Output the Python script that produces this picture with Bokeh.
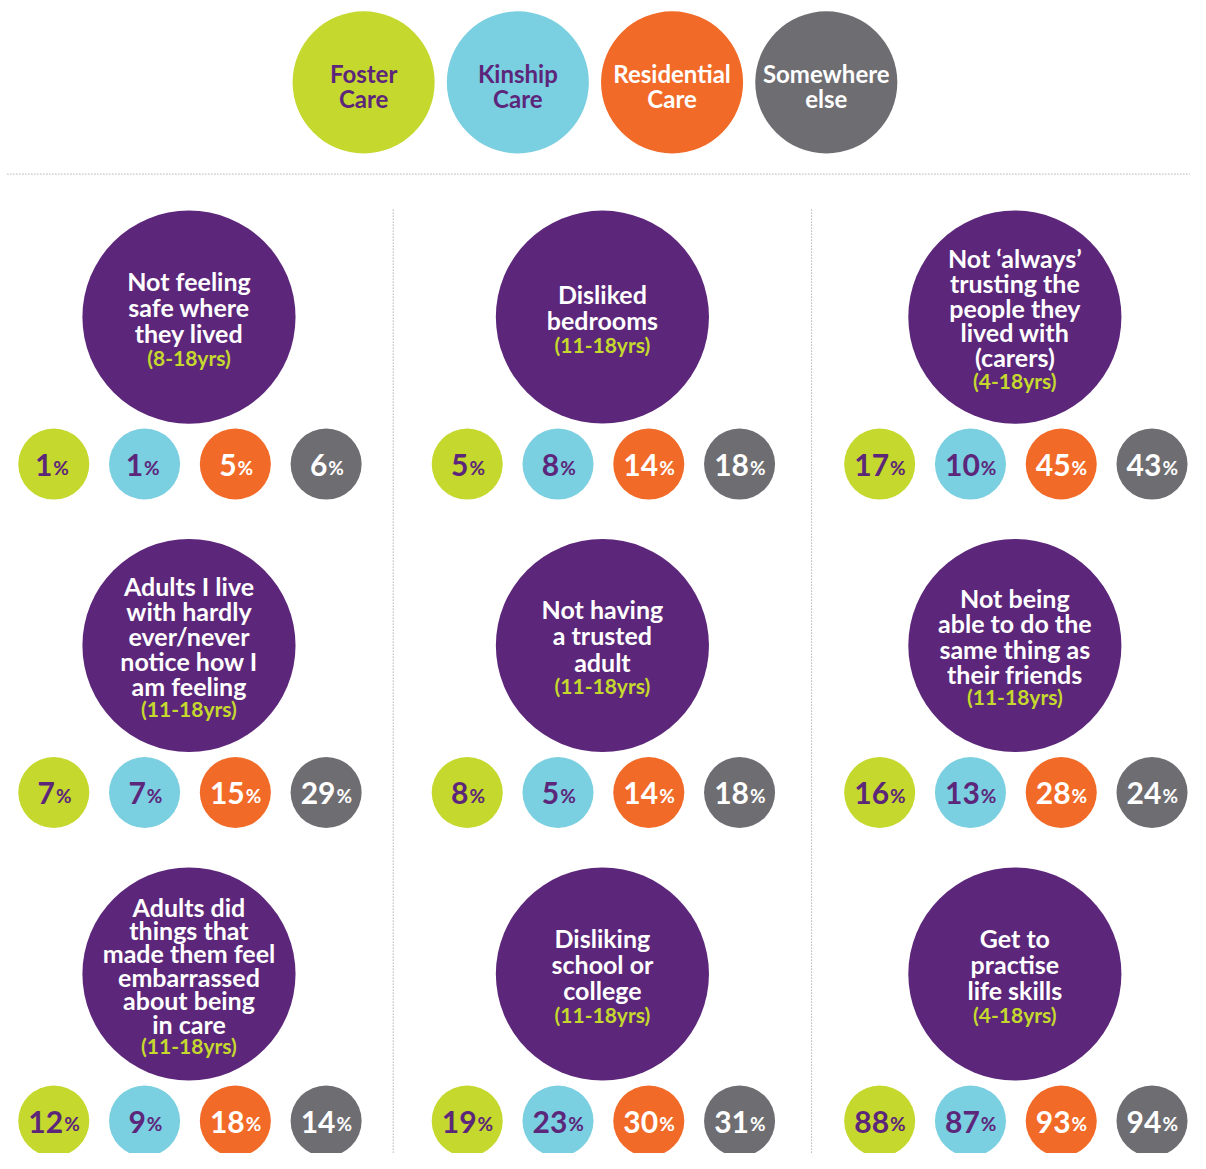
from bokeh.plotting import figure
from bokeh.models import Range1d
from bokeh.core.properties import value
from bokeh.embed import file_html
from bokeh.resources import INLINE

# ---------------- data ----------------
categories = ["Foster\nCare", "Kinship\nCare", "Residential\nCare", "Somewhere\nelse"]
cat_colors = ["#C5D82E", "#7ACFE0", "#F26A27", "#6E6D72"]
cat_text_colors = ["#5C267A", "#5C267A", "#FFFFFF", "#FFFFFF"]

titles = [
    ["Not feeling", "safe where", "they lived"],
    ["Disliked", "bedrooms"],
    ["Not \u2018always\u2019", "trusting the", "people they", "lived with", "(carers)"],
    ["Adults I live", "with hardly", "ever/never", "notice how I", "am feeling"],
    ["Not having", "a trusted", "adult"],
    ["Not being", "able to do the", "same thing as", "their friends"],
    ["Adults did", "things that", "made them feel", "embarrassed", "about being", "in care"],
    ["Disliking", "school or", "college"],
    ["Get to", "practise", "life skills"],
]
age_ranges = ["(8-18yrs)", "(11-18yrs)", "(4-18yrs)",
              "(11-18yrs)", "(11-18yrs)", "(11-18yrs)",
              "(11-18yrs)", "(11-18yrs)", "(4-18yrs)"]
foster = [1, 5, 17, 7, 8, 16, 12, 19, 88]
kinship = [1, 8, 10, 7, 5, 13, 9, 23, 87]
residential = [5, 14, 45, 15, 14, 28, 18, 30, 93]
somewhere = [6, 18, 43, 29, 18, 24, 14, 31, 94]

PURPLE = "#5C267A"
FONT = "Lato"

W, H = 1190, 1153
p = figure(width=W, height=H, output_backend="svg", toolbar_location=None,
           x_range=Range1d(0, 1206), y_range=Range1d(1169, 0),
           x_axis_type=None, y_axis_type=None, min_border=0,
           background_fill_color="white", border_fill_color="white")
p.outline_line_color = None
p.grid.visible = False

# ---------------- legend row ----------------
leg_cx0, leg_dx, leg_cy, leg_r = 368, 156.3, 83, 72
lx = [leg_cx0 + i * leg_dx for i in range(4)]
p.circle(x=lx, y=[leg_cy] * 4, radius=leg_r, fill_color=cat_colors, line_color=None)
lt_x, lt_y, lt_t, lt_c = [], [], [], []
for i, c in enumerate(categories):
    lines = c.split("\n")
    for j, ln in enumerate(lines):
        lt_x.append(lx[i]); lt_y.append(leg_cy + 4 + (j - (len(lines) - 1) / 2) * 25)
        lt_t.append(ln); lt_c.append(cat_text_colors[i])
p.text(x=lt_x, y=lt_y, text=lt_t, text_color=lt_c, text_align="center",
       text_baseline="middle", text_font=value(FONT), text_font_style="bold",
       text_font_size="24px")

# separators
p.line(x=[7, 1206], y=[176, 176], line_color="#8a8a8a", line_width=1, line_dash="1 2")
for vx in [398, 822]:
    p.line(x=[vx, vx], y=[212, 1169], line_color="#8a8a8a", line_width=1, line_dash="1 2")

# ---------------- panels ----------------
col_x = [191, 610, 1028]
row_y = [321, 654, 987]
big_r = 108
small_r = 36
small_dx = [-137, -45, 47, 139]
small_dy = 149

bx, by = [], []
tx, ty, tt = [], [], []
ax, ay, at = [], [], []
cx_, cy_, cc = [], [], []
nx, ny, nt, nc = [], [], [], []
px, py, pc = [], [], []
spacing_map = {2: 26.5, 3: 26.5, 4: 26.5, 5: 25.5, 6: 25.2, 7: 23.8}
for k in range(9):
    r, c = divmod(k, 3)
    X, Y = col_x[c], row_y[r]
    bx.append(X); by.append(Y)
    lines = titles[k]
    n = len(lines) + 1
    sp = spacing_map[n]
    for j, ln in enumerate(lines):
        tx.append(X); ty.append(Y + 3 + (j - (n - 1) / 2) * sp); tt.append(ln)
    ax.append(X); ay.append(Y + 1 + ((n - 1) - (n - 1) / 2) * sp); at.append(age_ranges[k])
    vals = [foster[k], kinship[k], residential[k], somewhere[k]]
    for i, v in enumerate(vals):
        sxx = X + small_dx[i]; syy = Y + small_dy
        cx_.append(sxx); cy_.append(syy); cc.append(cat_colors[i])
        s = str(v)
        dw = 16.5 if s != "1" else 11
        nd = dw * len(s)
        pw = 14
        split = sxx + (nd - pw) / 2
        nx.append(split); ny.append(syy + 1); nt.append(s); nc.append(cat_text_colors[i])
        px.append(split + 1); py.append(syy + 3); pc.append(cat_text_colors[i])

p.circle(x=bx, y=by, radius=big_r, fill_color=PURPLE, line_color=None)
p.text(x=tx, y=ty, text=tt, text_color="white", text_align="center",
       text_baseline="middle", text_font=value(FONT), text_font_style="bold",
       text_font_size="25px")
p.text(x=ax, y=ay, text=at, text_color="#C5D82E", text_align="center",
       text_baseline="middle", text_font=value(FONT), text_font_style="bold",
       text_font_size="21px")
p.circle(x=cx_, y=cy_, radius=small_r, fill_color=cc, line_color=None)
p.text(x=nx, y=ny, text=nt, text_color=nc, text_align="right",
       text_baseline="middle", text_font=value(FONT), text_font_style="bold",
       text_font_size="30px")
p.text(x=px, y=py, text=["%"] * len(px), text_color=pc, text_align="left",
       text_baseline="middle", text_font=value(FONT), text_font_style="bold",
       text_font_size="19px")

open("out.html", "w").write(file_html(p, INLINE))
